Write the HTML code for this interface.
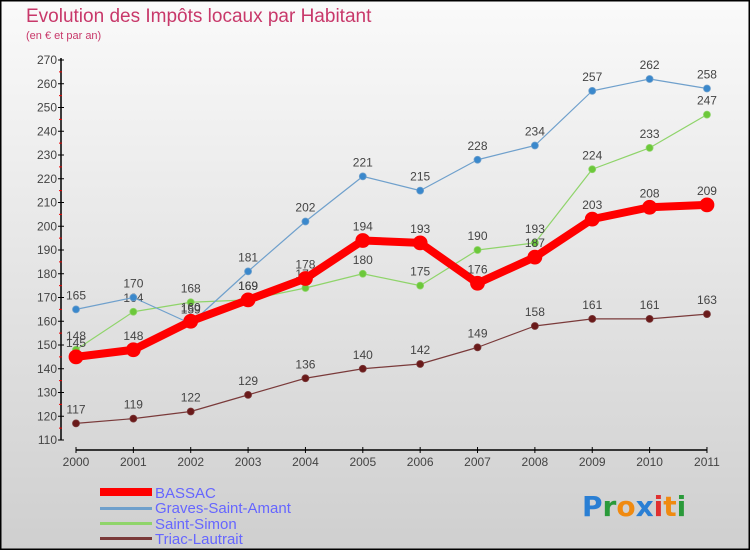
<!DOCTYPE html>
<html><head><meta charset="utf-8"><style>
html,body{margin:0;padding:0}
body{width:750px;height:550px;overflow:hidden;font-family:"Liberation Sans",sans-serif}
</style></head><body>
<svg id="chart" width="750" height="550" xmlns="http://www.w3.org/2000/svg">
<defs><linearGradient id="bg" x1="0" y1="0" x2="0" y2="1"><stop offset="0" stop-color="#fafafa"/><stop offset="1" stop-color="#cfcfcf"/></linearGradient></defs>
<rect x="0.5" y="0.5" width="749" height="549" fill="url(#bg)" stroke="#000" stroke-width="2"/>
<text x="26" y="22" font-size="19" fill="#c8386a">Evolution des Impôts locaux par Habitant</text>
<text x="26" y="39" font-size="11" fill="#c8386a">(en € et par an)</text>
<g id="axes"></g><g id="series"></g>
<g font-size="15" fill="#6666ff">
<rect x="100" y="488" width="52" height="8" fill="#f00"/>
<text x="155" y="498">BASSAC</text>
<rect x="100" y="507" width="52" height="3" fill="#6fa0cc"/>
<text x="155" y="513">Graves-Saint-Amant</text>
<rect x="100" y="522" width="52" height="3" fill="#8fd46a"/>
<text x="155" y="529">Saint-Simon</text>
<rect x="100" y="537" width="52" height="3" fill="#7a3a3a"/>
<text x="155" y="544">Triac-Lautrait</text>
</g>
<g font-size="28" font-weight="bold" font-family="DejaVu Sans,sans-serif">
<text x="582" y="516"><tspan fill="#2a7fd4">P</tspan><tspan fill="#2a9a3a">r</tspan><tspan fill="#f08a10">o</tspan><tspan fill="#2a7fd4">x</tspan><tspan fill="#e03030">i</tspan><tspan fill="#f08a10">t</tspan><tspan fill="#2a9a3a">i</tspan></text>
</g>
</svg>
<script>
const years=["2000","2001","2002","2003","2004","2005","2006","2007","2008","2009","2010","2011"];
const bassac=[145,148,160,169,178,194,193,176,187,203,208,209];
const graves=[165,170,159,181,202,221,215,228,234,257,262,258];
const saintSimon=[148,164,168,169,174,180,175,190,193,224,233,247];
const triac=[117,119,122,129,136,140,142,149,158,161,161,163];
const yTicks=[110,120,130,140,150,160,170,180,190,200,210,220,230,240,250,260,270];
const NS="http://www.w3.org/2000/svg";
const x=i=>76+i*57.36;
const y=v=>440-(v-110)*2.375;
function el(t,a,p){const e=document.createElementNS(NS,t);for(const k in a)e.setAttribute(k,a[k]);p.appendChild(e);return e;}
const axes=document.getElementById('axes');
let e=el('line',{x1:61,y1:58,x2:61,y2:440,stroke:'#000','stroke-width':1.5},axes);


e=el('line',{x1:76,y1:450,x2:707,y2:450,stroke:'#000','stroke-width':1.5},axes);


yTicks.forEach((v,i)=>{
 el('line',{x1:58,y1:y(v),x2:64,y2:y(v),stroke:'#000'},axes);
 if(i<yTicks.length-1)el('line',{x1:59,y1:y(v+5),x2:62,y2:y(v+5),stroke:'#e00'},axes);
 const t=el('text',{x:57,y:y(v)+4,'font-size':12,fill:'#444','text-anchor':'end'},axes);
 
 
 t.textContent=v;
});
years.forEach((yr,i)=>{
 el('line',{x1:x(i),y1:447,x2:x(i),y2:453,stroke:'#000'},axes);
 const t=el('text',{x:x(i),y:466,'font-size':12,fill:'#444','text-anchor':'middle'},axes);
 
 
 t.textContent=yr;
});
const sg=document.getElementById('series');
function series(name,vals,color,w,r,dot){
 const g=el('g',{},sg);
 
 
 const p=el('polyline',{points:vals.map((v,i)=>x(i)+','+y(v)).join(' '),fill:'none',stroke:color,'stroke-width':w,'stroke-linejoin':'round'},g);
 
 
 vals.forEach((v,i)=>{
  const c=el('circle',{cx:x(i),cy:y(v),r:r,fill:dot,stroke:color,'stroke-width':0.8},g);
  
  
  const t=el('text',{x:x(i),y:y(v)-10,'font-size':12,fill:'#444','text-anchor':'middle'},g);
  
  
  t.textContent=v;
 });
}
series('triac',triac,'#7a3a3a',1.2,3.5,'#6a1a1a');
series('saint-simon',saintSimon,'#8fd46a',1.2,3.5,'#6cc83a');
series('graves',graves,'#6fa0cc',1.2,3.5,'#3a88cc');
series('bassac',bassac,'#f00',8,7,'#f00');
</script>
</body></html>
